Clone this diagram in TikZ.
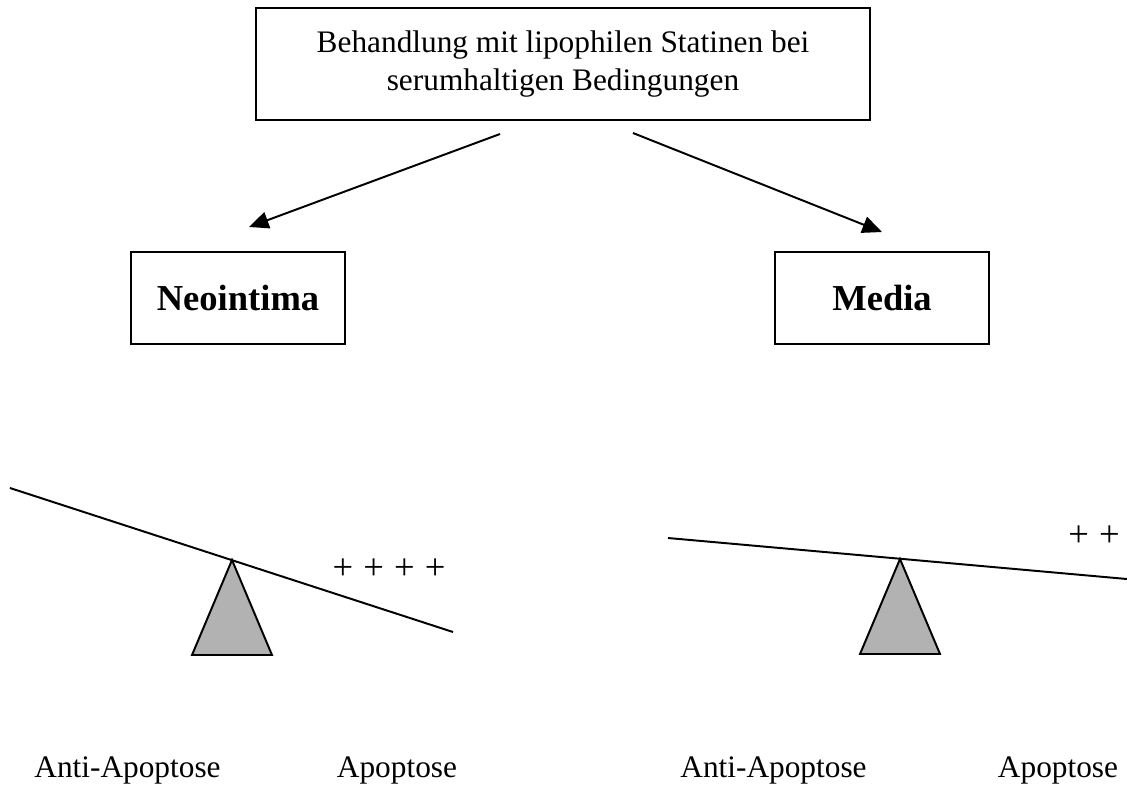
\documentclass[tikz,border=0pt]{standalone}
\usepackage{fontspec}
\setmainfont{Liberation Serif}
\usetikzlibrary{arrows.meta}

\tikzset{
  box/.style={draw, line width=0.75pt, align=center, inner sep=0pt},
  bigbox/.style={box, minimum width=235.5pt, minimum height=43pt},
  partbox/.style={box, minimum width=82pt, minimum height=35.5pt,
    font=\fontsize{14}{16}\selectfont\bfseries},
  arr/.style={line width=0.75pt, -{Triangle[length=7.5pt,width=6.5pt]}},
  beam/.style={line width=0.75pt},
  pivot/.style={draw, line width=0.75pt, fill=gray!60, line join=miter},
  lbl/.style={anchor=base, inner sep=0pt},
  pluses/.style={lbl, font=\fontsize{14}{16}\selectfont}
}

\begin{document}
\begin{tikzpicture}[x=0.383pt, y=-0.383pt, font=\fontsize{12}{14.2}\selectfont]
            \useasboundingbox (0,0) rectangle (1127,791);

            \node[bigbox] (treat) at (563,64) {Behandlung mit lipophilen Statinen bei\\serumhaltigen Bedingungen};
            \node[partbox] (neo) at (238,298) {Neointima};
            \node[partbox] (media) at (882,298) {Media};

            \coordinate (treat-l) at (500,134);
            \coordinate (treat-r) at (633,133);
            \coordinate (neo-in) at (249,227);
            \coordinate (media-in) at (882,232);
            \draw[arr] (treat-l) -- (neo-in);
            \draw[arr] (treat-r) -- (media-in);

            \draw[pivot] (232,560) -- (272,655) -- (192,655) -- cycle;
            \draw[beam] (10,488) -- (453,632);
            \node[pluses] (neo-plus) at (389,579) {+\hspace{3.9pt}+\hspace{3.9pt}+\hspace{3.9pt}+};

            \draw[pivot] (900,559) -- (940,654) -- (860,654) -- cycle;
            \draw[beam] (668,538) -- (1127,579);
            \node[pluses] (media-plus) at (1094,546.5) {+\hspace{3.9pt}+};

            \node[lbl] (neo-anti) at (127.5,777) {Anti-Apoptose};
            \node[lbl] (neo-apo) at (397,777) {Apoptose};
            \node[lbl] (media-anti) at (773.5,777) {Anti-Apoptose};
            \node[lbl] (media-apo) at (1058,777) {Apoptose};
        \end{tikzpicture}
\end{document}
